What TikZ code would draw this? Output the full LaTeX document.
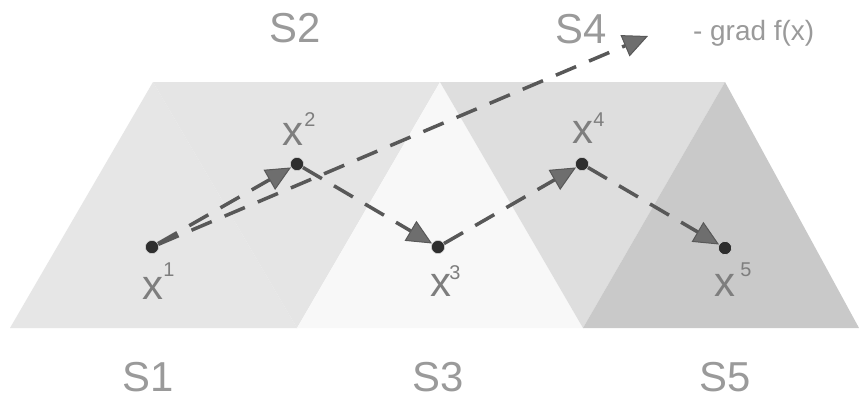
\documentclass[tikz,border=0pt]{standalone}
\usepackage{fontspec}
\setmainfont{Liberation Sans}
\usetikzlibrary{arrows.meta}
\definecolor{faceA}{HTML}{E6E6E6}
\definecolor{faceB}{HTML}{E5E5E5}
\definecolor{faceC}{HTML}{F8F8F8}
\definecolor{faceD}{HTML}{DEDEDE}
\definecolor{faceE}{HTML}{C9C9C9}
\definecolor{linegray}{HTML}{585858}
\definecolor{tipgray}{HTML}{6E6E6E}
\definecolor{dotgray}{HTML}{2E2E2E}
\definecolor{setgray}{HTML}{9A9A9A}
\definecolor{labgray}{HTML}{7E7E7E}
\begin{document}
\begin{tikzpicture}[x=1bp,y=-1bp,
  dot/.style={circle,fill=dotgray,draw=white!80!black,line width=0.8bp,inner sep=0pt,minimum size=13bp},
  walk/.style={line width=3.5bp,draw=linegray,dash pattern=on 22bp off 14bp,
    -{Triangle[length=25bp,width=23bp,fill=tipgray,line width=1bp]}},
  setlab/.style={inner sep=0pt,text=setgray,font=\fontsize{42}{42}\selectfont},
  xlab/.style={inner sep=0pt,text=labgray,font=\fontsize{42}{42}\selectfont},
  suplab/.style={inner sep=0pt,text=labgray,font=\fontsize{20}{20}\selectfont},
  gradlab/.style={inner sep=0pt,text=setgray,font=\fontsize{28}{28}\selectfont}]
\useasboundingbox (0,0) rectangle (859,400);
\fill[white] (0,0) rectangle (859,400);

% the five triangular faces
\fill[faceA] (10,328) -- (153,82) -- (297,328) -- cycle;
\fill[faceB] (153,82) -- (440,82) -- (297,328) -- cycle;
\fill[faceC] (297,328) -- (440,82) -- (583,328) -- cycle;
\fill[faceD] (440,82) -- (725,82) -- (583,328) -- cycle;
\fill[faceE] (583,328) -- (725,82) -- (859,328) -- cycle;

% set names
\node[setlab] (s1) at (148,377) {S1};
\node[setlab] (s2) at (295,28) {S2};
\node[setlab] (s3) at (438,377) {S3};
\node[setlab] (s4) at (581,29) {S4};
\node[setlab] (s5) at (725,377) {S5};

% iterates
\node[dot] (p1) at (152,247) {};
\node[dot] (p2) at (297,164) {};
\node[dot] (p3) at (438,247) {};
\node[dot] (p4) at (582,164) {};
\node[dot] (p5) at (725,248) {};
\coordinate (g) at (648,36);

% iterate labels
\node[xlab] (l1) at (153,288) {x};
\node[suplab] (u1) at (169,270) {1};
\node[xlab] (l2) at (293,134) {x};
\node[suplab] (u2) at (310,120) {2};
\node[xlab] (l3) at (441,285) {x};
\node[suplab] (u3) at (455,273) {3};
\node[xlab] (l4) at (583,132) {x};
\node[suplab] (u4) at (599,120) {4};
\node[xlab] (l5) at (725,285) {x};
\node[suplab] (u5) at (746,270) {5};
\node[gradlab,anchor=west] (gl) at (693,33) {- grad f(x)};

% steps
\draw[walk] (p1) -- (g);
\draw[walk] (p1) -- (p2);
\draw[walk] (p2) -- (p3);
\draw[walk] (p3) -- (p4);
\draw[walk] (p4) -- (p5);

% redraw dots on top
\foreach \p in {p1,p2,p3,p4,p5}
  \fill[dotgray] (\p) circle (6bp);
\end{tikzpicture}
\end{document}
